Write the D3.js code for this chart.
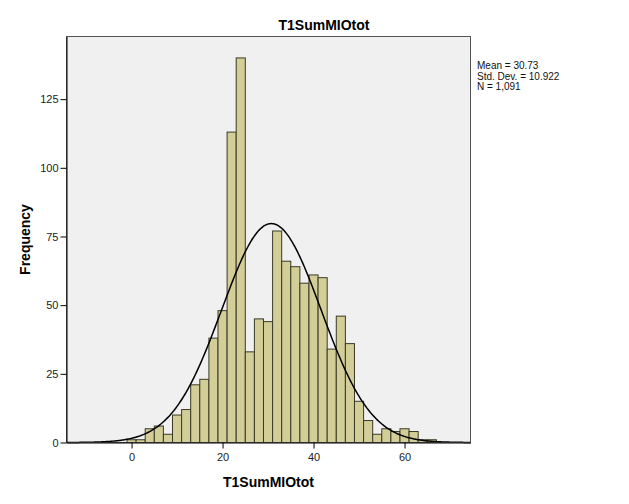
<!DOCTYPE html>
<html>
<head>
<meta charset="utf-8">
<script src="https://cdn.jsdelivr.net/npm/d3@7"></script>
<style>
  body { margin: 0; background: #fff; }
  text { font-family: Arial, "Liberation Sans", sans-serif; }
</style>
</head>
<body>
<svg id="chart" width="629" height="504"></svg>
<script>
// histogram bins (centre of bin, width 2) and counts
var binCenters = [0, 2, 4, 6, 8, 10, 12, 14, 16, 18, 20, 22, 24, 26, 28, 30, 32,
                  34, 36, 38, 40, 42, 44, 46, 48, 50, 52, 54, 56, 58, 60, 62, 64, 66];
var counts = [1, 1, 5, 6, 3, 10, 12, 21, 23, 38, 48, 113, 140, 33, 45, 44, 77,
              66, 64, 58, 61, 60, 34, 46, 36, 15, 8, 3, 5, 4, 5, 4, 1, 1];
var binWidth = 2;
var xTicks = [0, 20, 40, 60];
var yTicks = [0, 25, 50, 75, 100, 125];
var stats = ["Mean = 30.73", "Std. Dev. = 10.922", "N = 1,091"];
var mean = 30.73, sd = 10.922, n = 1091;

var svg = d3.select("#chart");
var plot = {left: 66.5, right: 470.5, top: 36.5, bottom: 442.5};

var x = d3.scaleLinear().domain([-14.3, 74.5]).range([plot.left, plot.right]);
var y = d3.scaleLinear().domain([0, 147.8]).range([plot.bottom, plot.top]);

// plot background
svg.append("rect")
  .attr("x", plot.left).attr("y", plot.top)
  .attr("width", plot.right - plot.left).attr("height", plot.bottom - plot.top)
  .style("fill", "#f0f0f0");

var bins = binCenters.map(function(c, i){ return {c: c, v: counts[i]}; });

svg.append("g").selectAll("rect")
  .data(bins)
  .enter().append("rect")
    .attr("x", function(d){ return x(d.c - binWidth/2); })
    .attr("y", function(d){ return y(d.v); })
    .attr("width", function(d){ return x(d.c + binWidth/2) - x(d.c - binWidth/2); })
    .attr("height", function(d){ return y(0) - y(d.v); })
    .style("fill", "#d3ce97")
    .style("stroke", "#3a3a26")
    .style("stroke-width", "1px");

// normal curve scaled to counts
var curvePts = d3.range(-14.3, 74.51, 0.25).map(function(v){
  var z = (v - mean) / sd;
  return [v, n * binWidth * Math.exp(-0.5*z*z) / (sd * Math.sqrt(2*Math.PI))];
});
var line = d3.line()
  .x(function(d){ return x(d[0]); })
  .y(function(d){ return y(d[1]); })
  .curve(d3.curveBasis);
svg.append("path")
  .attr("d", line(curvePts))
  .style("fill", "none")
  .style("stroke", "#000")
  .style("stroke-width", "1.5px");

// plot frame
svg.append("rect")
  .attr("x", plot.left).attr("y", plot.top)
  .attr("width", plot.right - plot.left).attr("height", plot.bottom - plot.top)
  .style("fill", "none")
  .style("stroke", "#555")
  .style("stroke-width", "1px");

// axes
var xAxis = svg.append("g")
  .attr("transform", "translate(0," + plot.bottom + ")")
  .call(d3.axisBottom(x).tickValues(xTicks).tickSize(6).tickSizeOuter(0));
var yAxis = svg.append("g")
  .attr("transform", "translate(" + plot.left + ",0)")
  .call(d3.axisLeft(y).tickValues(yTicks).tickSize(6).tickSizeOuter(0));
[xAxis, yAxis].forEach(function(a){
  a.select(".domain").style("stroke", "#000");
  a.selectAll(".tick line").style("stroke", "#000");
  a.selectAll(".tick text")
    .style("font-family", "Arial, 'Liberation Sans', sans-serif")
    .style("font-size", "11px")
    .style("fill", "#222");
});
xAxis.selectAll(".tick text").attr("dy", "0.9em");
yAxis.selectAll(".tick text").attr("x", -8);

// titles
svg.append("text")
  .attr("x", 324).attr("y", 30)
  .attr("text-anchor", "middle")
  .style("font-size", "14px").style("font-weight", "bold")
  .text("T1SumMIOtot");

svg.append("text")
  .attr("x", (plot.left + plot.right)/2).attr("y", 487)
  .attr("text-anchor", "middle")
  .style("font-size", "14px").style("font-weight", "bold")
  .text("T1SumMIOtot");

svg.append("text")
  .attr("transform", "translate(30," + ((plot.top + plot.bottom)/2) + ") rotate(-90)")
  .attr("text-anchor", "middle")
  .style("font-size", "14px").style("font-weight", "bold")
  .text("Frequency");

// stats box
svg.append("g").selectAll("text")
  .data(stats)
  .enter().append("text")
    .attr("x", 477)
    .attr("y", function(d, i){ return 69 + i*10.5; })
    .style("font-size", "10px")
    .style("fill", "#111")
    .text(function(d){ return d; });
</script>
</body>
</html>
